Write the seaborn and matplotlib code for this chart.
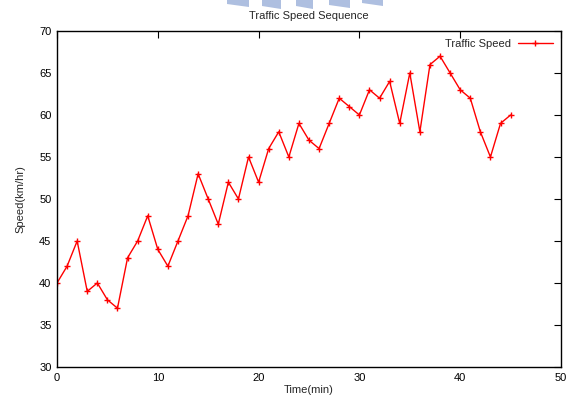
import seaborn as sns
import matplotlib.pyplot as plt
import pandas as pd
from matplotlib.patches import Polygon

time_min = list(range(46))
speed = [40, 42, 45, 39, 40, 38, 37, 43, 45, 48,
         44, 42, 45, 48, 53, 50, 47, 52, 50, 55,
         52, 56, 58, 55, 59, 57, 56, 59, 62, 61,
         60, 63, 62, 64, 59, 65, 58, 66, 67, 65,
         63, 62, 58, 55, 59, 60]
x_ticks = [0, 10, 20, 30, 40, 50]
y_ticks = [30, 35, 40, 45, 50, 55, 60, 65, 70]

df = pd.DataFrame({"Time(min)": time_min, "Speed(km/hr)": speed})

sns.set_style("white")
plt.rcParams["font.family"] = ["Liberation Sans", "DejaVu Sans"]

fig = plt.figure(figsize=(5.66, 3.98), dpi=100)
ax = fig.add_axes([57 / 566, 1 - 367 / 398, 504 / 566, 336 / 398])

# faint logo watermark cut off at the top
for xs, h in [((227, 249), 7), ((262, 281), 9), ((296, 313), 9), ((329, 350), 8), ((362, 383), 6)]:
    x0, x1 = xs
    pts = [(x0 / 566, 1), (x1 / 566, 1), (x1 / 566, 1 - h / 398), (x0 / 566, 1 - (h - 3) / 398)]
    fig.patches.append(Polygon(pts, closed=True, transform=fig.transFigure,
                               facecolor="#aebfe0", edgecolor="none"))

sns.lineplot(data=df, x="Time(min)", y="Speed(km/hr)", ax=ax, color="red",
             marker="+", markersize=5, markeredgewidth=1, markeredgecolor="red",
             linewidth=1, label="Traffic Speed")

ax.set_xlim(0, 50)
ax.set_ylim(30, 70)
ax.set_xticks(x_ticks)
ax.set_yticks(y_ticks)
ax.tick_params(direction="in", length=5, width=0.8, top=True, right=True,
               labelsize=8, pad=4, colors="black")
for s in ax.spines.values():
    s.set_linewidth(1)
    s.set_color("black")

ax.set_xlabel("Time(min)", fontsize=8, labelpad=2)
ax.set_ylabel("Speed(km/hr)", fontsize=8, labelpad=10)
fig.text(309 / 566, 1 - 16 / 398, "Traffic Speed Sequence", fontsize=8,
         ha="center", va="center")

ax.legend(loc="upper right", frameon=False, markerfirst=False, fontsize=8,
          handlelength=3.2, borderaxespad=0.3, handletextpad=0.6)

fig.savefig("out.png", dpi=100)
